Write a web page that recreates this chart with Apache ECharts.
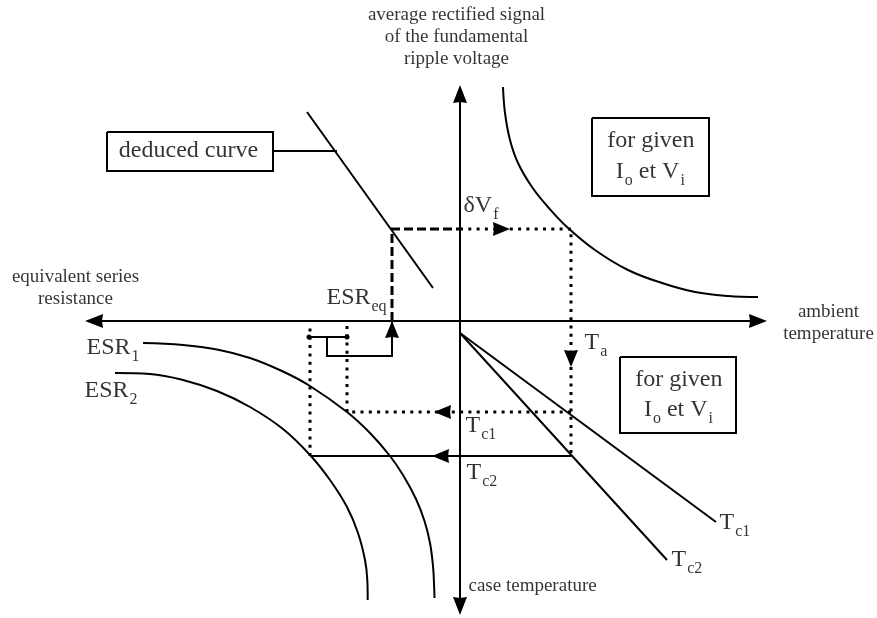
<!DOCTYPE html>
<html>
<head>
<meta charset="utf-8">
<title>ESR deduction diagram</title>
<script src="https://cdn.jsdelivr.net/npm/echarts@6/dist/echarts.min.js"></script>
<style>
  html, body { margin: 0; padding: 0; background: #fff; }
  #main { width: 877px; height: 618px; }
</style>
</head>
<body>
<div id="main"></div>
<script>
// diagram units: 1 unit = 1 px, origin where the two axes cross, y up
const xRange = [-366, 298];
const yRange = [-285, 227];

// ripple voltage vs ambient temperature (upper right)
const rippleCurve = [[43, 234], [45, 208], [50, 181], [58, 158], [72, 134], [88, 114], [107, 94],
  [135, 71], [168, 51], [202, 38], [235, 29], [268, 25], [298, 24]];
// case temperature vs ambient temperature (lower right)
const tc1Line = [[0, -12], [256, -201]];
const tc2Line = [[0, -12], [207, -239]];
// ESR vs case temperature (lower left)
const esr1Curve = [[-317, -22], [-277, -24], [-243, -28.5], [-210, -37], [-177, -50.5], [-150, -65],
  [-113, -91], [-90, -112], [-70, -135], [-57, -154], [-44, -178], [-35.5, -200], [-30, -222],
  [-27, -245], [-26, -262], [-25.5, -277]];
const esr2Curve = [[-345, -52], [-310, -53], [-277, -59], [-243, -70], [-210, -86], [-177, -108],
  [-150, -134], [-130, -159], [-113, -186], [-102, -212], [-95, -239], [-92.7, -259], [-92.3, -279]];
// deduced curve (upper left)
const deducedLine = [[-153, 209], [-27, 33]];

// construction lines
const solidPaths = [
  [[-187, 170], [-123, 170]],
  [[111, -135], [-150, -135]],
  [[-151, -16], [-113, -16]],
  [[-133, -16], [-133, -35], [-68, -35], [-68, 0]]
];
const dottedPaths = [
  [[0, 92], [111, 92], [111, -135]],
  [[111, -91], [-113, -91], [-113, -4]],
  [[-150, -135], [-150, -4]]
];
const dashedPaths = [
  [[-68, 0], [-68, 92], [0, 92]]
];
// arrow tips: x, y, direction
const arrowTips = [[50, 92, 'right'], [111, -46, 'down'], [-26, -91, 'left'], [-28, -135, 'left'], [-68, 0, 'up']];
const bracketDots = [[-151, -16], [-113, -16]];
// label frames: [x1, y1, x2, y2]
const frames = [[-353, 189, -187, 150], [132, 203, 249, 125], [160, -36, 276, -112]];

// texts
const captions = [
  ['average rectified signal\nof the fundamental\nripple voltage', [-3, 283.5], 'center'],
  ['ambient\ntemperature', [369, -2.5], 'center'],
  ['equivalent series\nresistance', [-384, 32], 'center'],
  ['case temperature', [9, -266], 'left']
];
const symbols = [
  ['{m|δV}{s|f}', [4, 112.5], 'left'],
  ['{m|ESR}{s|eq}', [-133, 20.5], 'left'],
  ['{m|ESR}{s|1}', [-373, -29.5], 'left'],
  ['{m|ESR}{s|2}', [-375, -72.5], 'left'],
  ['{m|T}{s|a}', [125, -24.5], 'left'],
  ['{m|T}{s|c1}', [6, -107.5], 'left'],
  ['{m|T}{s|c2}', [7, -154.5], 'left'],
  ['{m|T}{s|c1}', [260, -204.5], 'left'],
  ['{m|T}{s|c2}', [212, -241.5], 'left'],
  ['{m|deduced curve}', [-271, 168], 'center'],
  ['{m|for given}', [191.3, 177.3], 'center'],
  ['{m|I}{s|o}{m| et V}{s|i}', [190.8, 146.9], 'center'],
  ['{m|for given}', [219.3, -61.7], 'center'],
  ['{m|I}{s|o}{m| et V}{s|i}', [219, -91.7], 'center']
];

const FONT = 'Liberation Serif';
const ARROW = 'path://M7,0L14,18L7,17L0,18Z';
const rotation = { up: 0, left: 90, down: 180, right: -90 };
const dirs = { up: [0, 1], left: [-1, 0], down: [0, -1], right: [1, 0] };
const arrowLen = 17;

const rich = {
  m: { fontFamily: FONT, fontSize: 24, lineHeight: 28, color: '#000', verticalAlign: 'top' },
  s: { fontFamily: FONT, fontSize: 16, lineHeight: 16, padding: [13, 0, 0, 1], color: '#000', verticalAlign: 'top' }
};

const textItems = [];
captions.forEach(function (c) {
  textItems.push({
    value: c[1],
    label: { formatter: c[0], align: c[2], fontSize: 19, lineHeight: 22 }
  });
});
symbols.forEach(function (s) {
  textItems.push({ value: s[1], label: { formatter: s[0], align: s[2], rich: rich } });
});

const curve = function (data) {
  return {
    type: 'line', data: data, smooth: 0.4, symbol: 'none', clip: false,
    lineStyle: { color: '#000', width: 2 }, silent: true
  };
};
const paths = function (list, style) {
  return {
    type: 'lines', coordinateSystem: 'cartesian2d', polyline: true, clip: false, silent: true,
    data: list.map(function (p) { return { coords: p }; }),
    lineStyle: Object.assign({ color: '#000', width: 2, opacity: 1, join: 'miter' }, style)
  };
};
const framePaths = frames.map(function (f) {
  return [[f[0], f[1]], [f[2], f[1]], [f[2], f[3]], [f[0], f[3]], [f[0], f[1]]];
});

const axisCommon = {
  type: 'value',
  axisLine: {
    onZero: true, symbol: [ARROW, ARROW], symbolSize: [15, 18],
    lineStyle: { color: '#000', width: 2 }
  },
  axisTick: { show: false },
  axisLabel: { show: false },
  splitLine: { show: false }
};

const chart = echarts.init(document.getElementById('main'));
chart.setOption({
  backgroundColor: '#fff',
  animation: false,
  grid: { left: 94, right: 119, top: 94, bottom: 12 },
  xAxis: Object.assign({ min: xRange[0], max: xRange[1] }, axisCommon),
  yAxis: Object.assign({ min: yRange[0], max: yRange[1] }, axisCommon),
  series: [
    curve(rippleCurve),
    curve(esr1Curve),
    curve(esr2Curve),
    curve(tc1Line),
    curve(tc2Line),
    curve(deducedLine),
    paths(solidPaths, {}),
    paths(framePaths, {}),
    paths(dottedPaths, { width: 3, type: [3, 5.3] }),
    paths(dashedPaths, { width: 3, type: [9, 4] }),
    {
      type: 'scatter', clip: false, silent: true,
      symbol: ARROW, symbolSize: [14, arrowLen],
      itemStyle: { color: '#000', opacity: 1 },
      data: arrowTips.map(function (a) {
        const d = dirs[a[2]];
        return {
          value: [a[0] - d[0] * arrowLen / 2, a[1] - d[1] * arrowLen / 2],
          symbolRotate: rotation[a[2]]
        };
      }),
      z: 3
    },
    {
      type: 'scatter', clip: false, silent: true, symbol: 'circle', symbolSize: 5,
      itemStyle: { color: '#000', opacity: 1 }, data: bracketDots
    },
    {
      type: 'scatter', clip: false, silent: true, symbolSize: 1,
      itemStyle: { color: 'rgba(0,0,0,0)' },
      label: {
        show: true, position: [0, 0], verticalAlign: 'middle',
        fontFamily: FONT, color: '#000'
      },
      data: textItems,
      z: 5
    }
  ]
});
</script>
</body>
</html>
